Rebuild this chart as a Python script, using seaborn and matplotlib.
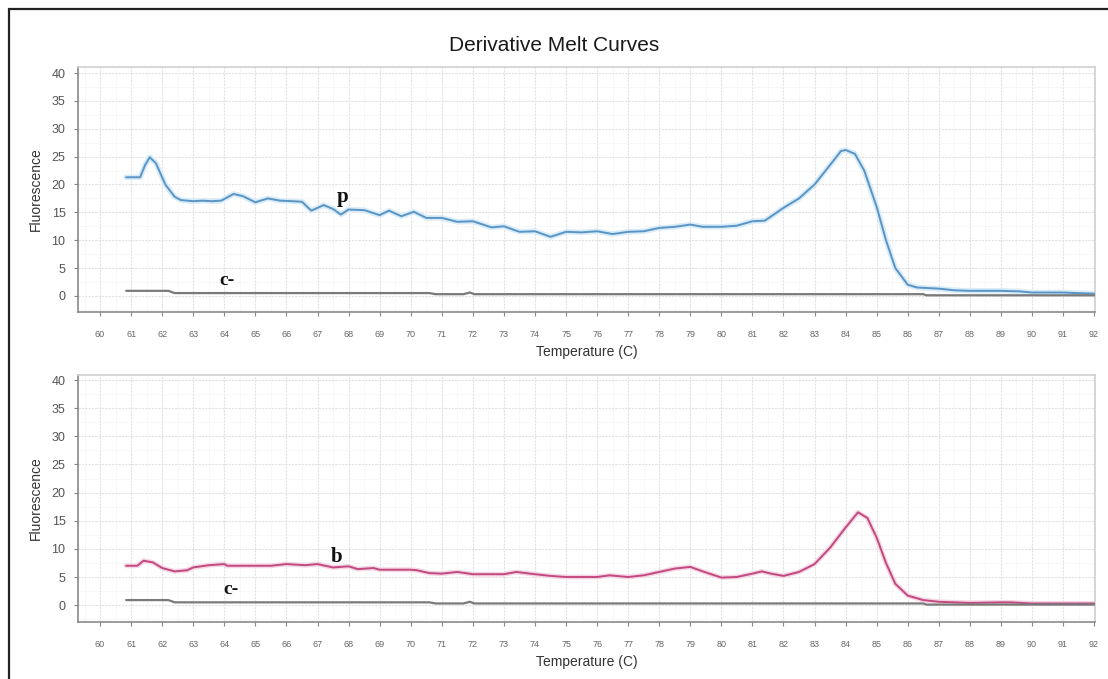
import numpy as np
import pandas as pd
import matplotlib
matplotlib.use("Agg")
import matplotlib.pyplot as plt
from matplotlib.patches import Rectangle
from matplotlib.ticker import MultipleLocator
import seaborn as sns

# ---------------- data ----------------
p_temp = [60.84, 61.29, 61.45, 61.6, 61.8, 62.1, 62.4, 62.6, 63.0, 63.3, 63.6, 63.9, 64.3, 64.6,
          65.0, 65.4, 65.8, 66.2, 66.5, 66.8, 67.2, 67.5, 67.75, 68.0, 68.5, 69.0, 69.3, 69.7,
          70.1, 70.5, 71.0, 71.5, 72.0, 72.6, 73.0, 73.5, 74.0, 74.5, 75.0, 75.5, 76.0, 76.5,
          77.0, 77.5, 78.0, 78.5, 79.0, 79.4, 80.0, 80.5, 81.0, 81.4, 82.0, 82.5, 83.0, 83.5,
          83.85, 84.0, 84.3, 84.6, 85.0, 85.3, 85.6, 86.0, 86.3, 87.0, 87.5, 88.0, 89.0, 89.6,
          90.0, 91.0, 91.4, 92.0]
p_val = [21.3, 21.3, 23.5, 24.9, 23.8, 20.0, 17.8, 17.2, 17.0, 17.1, 17.0, 17.1, 18.3, 17.9,
         16.8, 17.5, 17.1, 17.0, 16.9, 15.3, 16.3, 15.6, 14.6, 15.5, 15.4, 14.5, 15.3, 14.3,
         15.1, 14.0, 14.0, 13.3, 13.4, 12.3, 12.5, 11.5, 11.6, 10.6, 11.5, 11.4, 11.6, 11.1,
         11.5, 11.6, 12.2, 12.4, 12.8, 12.4, 12.4, 12.6, 13.4, 13.5, 15.8, 17.5, 20.0, 23.5,
         26.0, 26.2, 25.5, 22.5, 16.0, 10.0, 5.0, 2.0, 1.5, 1.3, 1.0, 0.9, 0.9, 0.8,
         0.6, 0.6, 0.5, 0.4]

b_temp = [60.84, 61.2, 61.4, 61.7, 62.0, 62.4, 62.8, 63.0, 63.5, 64.0, 64.1, 65.0, 65.5, 66.0,
          66.3, 66.6, 67.0, 67.5, 68.0, 68.3, 68.8, 69.0, 70.0, 70.2, 70.6, 71.0, 71.5, 72.0,
          73.0, 73.4, 74.0, 74.5, 75.0, 76.0, 76.4, 77.0, 77.5, 78.0, 78.5, 79.0, 79.4, 80.0,
          80.5, 81.0, 81.3, 81.6, 82.0, 82.5, 83.0, 83.5, 84.0, 84.4, 84.7, 85.0, 85.3, 85.6,
          86.0, 86.5, 87.0, 88.0, 89.0, 89.3, 90.0, 92.0]
b_val = [7.0, 7.0, 7.9, 7.6, 6.6, 6.0, 6.2, 6.7, 7.1, 7.3, 7.0, 7.0, 7.0, 7.3,
         7.2, 7.1, 7.3, 6.7, 6.9, 6.4, 6.6, 6.3, 6.3, 6.2, 5.7, 5.6, 5.9, 5.5,
         5.5, 5.9, 5.5, 5.2, 5.0, 5.0, 5.3, 5.0, 5.3, 5.9, 6.5, 6.8, 6.0, 4.9,
         5.0, 5.6, 6.0, 5.6, 5.2, 5.9, 7.3, 10.2, 13.8, 16.5, 15.5, 12.0, 7.5, 3.8,
         1.7, 0.9, 0.6, 0.4, 0.5, 0.5, 0.3, 0.3]

c_temp = [60.84, 62.2, 62.4, 70.6, 70.8, 71.7, 71.9, 72.05, 86.5, 86.6, 92.0]
c_val = [0.9, 0.9, 0.5, 0.5, 0.3, 0.3, 0.6, 0.3, 0.3, 0.1, 0.1]

x_ticks = list(range(60, 93))
y_ticks = [0, 5, 10, 15, 20, 25, 30, 35, 40]

# ---------------- style ----------------
sns.set_theme(style="white")
plt.rcParams['font.family'] = ['Liberation Sans', 'DejaVu Sans']

fig = plt.figure(figsize=(11.08, 6.79), dpi=100)
ax1 = fig.add_axes([0.0704, 0.5405, 0.9179, 0.3608])
ax2 = fig.add_axes([0.0704, 0.0839, 0.9179, 0.3638])

blue = "#5a94c4"
halo = "#d8ecf9"
pink = "#c24a80"
pink_halo = "#f4d6e4"
gray = "#7a7a7a"

df_p = pd.DataFrame({"T": p_temp, "F": p_val})
df_b = pd.DataFrame({"T": b_temp, "F": b_val})
df_c = pd.DataFrame({"T": c_temp, "F": c_val})

def style_axes(ax, ylim):
    ax.set_xlim(59.29, 92.03)
    ax.set_ylim(*ylim)
    ax.set_xticks(x_ticks)
    ax.set_xticklabels([str(t) for t in x_ticks], fontsize=6.5, color="#666666")
    ax.set_yticks(y_ticks)
    ax.set_yticklabels([str(t) for t in y_ticks], fontsize=9, color="#555555")
    ax.xaxis.set_minor_locator(MultipleLocator(0.5))
    ax.yaxis.set_minor_locator(MultipleLocator(2.5))
    ax.grid(True, which="major", color="#e2e2e2", linewidth=0.8, linestyle=(0, (2, 1)))
    ax.grid(True, which="minor", color="#f4f4f4", linewidth=0.6, linestyle=(0, (2, 1)))
    ax.set_axisbelow(True)
    ax.tick_params(axis="both", which="major", direction="out", length=3, width=0.8,
                   color="#888888", bottom=True, left=True, pad=6)
    ax.tick_params(axis="x", which="major", pad=10)
    ax.tick_params(which="minor", length=0)
    for s in ["left", "bottom"]:
        ax.spines[s].set_color("#8a8a8a")
        ax.spines[s].set_linewidth(1.2)
    for s in ["top", "right"]:
        ax.spines[s].set_color("#d0d0d0")
        ax.spines[s].set_linewidth(1.2)
    ax.set_xlabel("Temperature (C)", fontsize=10, color="#333333", labelpad=4)
    ax.set_ylabel("Fluorescence", fontsize=10, color="#333333", labelpad=6)

# top panel
sns.lineplot(data=df_p, x="T", y="F", ax=ax1, color=halo, linewidth=4, sort=False, zorder=2)
sns.lineplot(data=df_p, x="T", y="F", ax=ax1, color=blue, linewidth=1.4, sort=False, zorder=3)
sns.lineplot(data=df_c, x="T", y="F", ax=ax1, color=gray, linewidth=1.6, sort=False, zorder=3)
style_axes(ax1, (-2.9, 41.1))

# bottom panel
sns.lineplot(data=df_b, x="T", y="F", ax=ax2, color=pink_halo, linewidth=3.5, sort=False, zorder=2)
sns.lineplot(data=df_b, x="T", y="F", ax=ax2, color=pink, linewidth=1.4, sort=False, zorder=3)
sns.lineplot(data=df_c, x="T", y="F", ax=ax2, color=gray, linewidth=1.6, sort=False, zorder=3)
style_axes(ax2, (-3.0, 40.9))

serif = ['Liberation Serif', 'DejaVu Serif']
ax1.text(67.8, 16.9, "p", fontsize=15, fontweight="bold", family=serif, ha="center",
         va="baseline", color="#111111", zorder=5)
ax1.text(64.1, 2.0, "c-", fontsize=14, fontweight="bold", family=serif, ha="center",
         va="baseline", color="#111111", zorder=5)
ax2.text(67.6, 7.6, "b", fontsize=15, fontweight="bold", family=serif, ha="center",
         va="baseline", color="#111111", zorder=5)
ax2.text(64.2, 2.0, "c-", fontsize=14, fontweight="bold", family=serif, ha="center",
         va="baseline", color="#111111", zorder=5)

fig.text(0.5, 0.933, "Derivative Melt Curves", ha="center", va="center", fontsize=15,
         color="#1a1a1a")

# outer frame (cropped at right and bottom)
fig.patches.append(Rectangle((9 / 1108, -0.02), 1.05, 1 + 0.02 - 9 / 679,
                             transform=fig.transFigure, fill=False,
                             edgecolor="#222222", linewidth=1.6))

fig.savefig("out.png", dpi=100)
